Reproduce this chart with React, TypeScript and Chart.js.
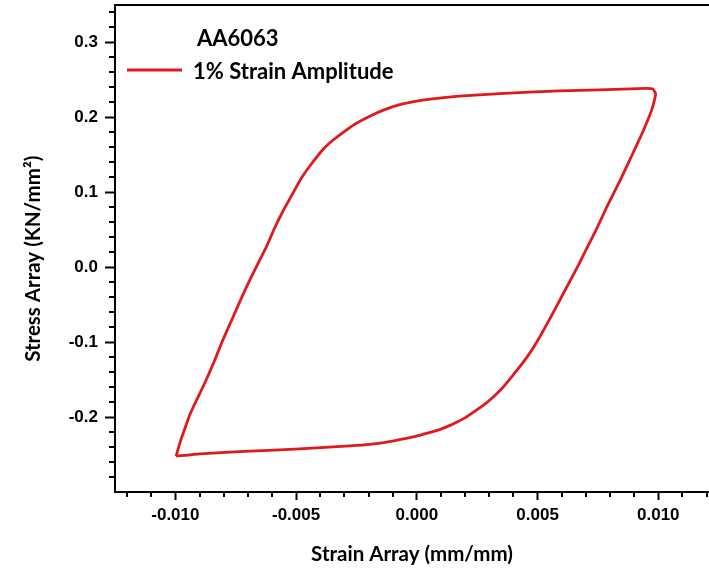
import React, { useEffect, useRef } from 'react';
import { Chart, registerables } from 'chart.js';

Chart.register(...registerables);

// Hysteresis loop, AA6063, 1% strain amplitude (traced in loop order)
const strain: number[] = [
  -0.00997, -0.00979, -0.00960, -0.00939, -0.00912, -0.00878, -0.00840, -0.00803, -0.00760, -0.00726,
  -0.00691, -0.00622, -0.00588, -0.00555, -0.00512, -0.00476, -0.00443, -0.00388, -0.00348, -0.00306,
  -0.00257, -0.00195, -0.00133, -0.00071, 0.00011, 0.00094, 0.00176, 0.00342, 0.00590, 0.00755,
  0.00948, 0.00978, 0.00989, 0.00974, 0.00935, 0.00883, 0.00844, 0.00788, 0.00743, 0.00701,
  0.00666, 0.00610, 0.00550, 0.00495, 0.00457, 0.00406, 0.00358, 0.00321, 0.00287, 0.00238,
  0.00190, 0.00135, 0.00094, 0.00044, -0.00002, -0.00071, -0.00113, -0.00196, -0.00278, -0.00485,
  -0.00691, -0.00898, -0.00997,
];
const stress: number[] = [
  -0.2522, -0.2321, -0.2147, -0.1960, -0.1772, -0.1545, -0.1264, -0.0969, -0.0657, -0.0407,
  -0.0166, 0.0280, 0.0530, 0.0744, 0.0995, 0.1200, 0.1351, 0.1574, 0.1695, 0.1798,
  0.1909, 0.2016, 0.2103, 0.2170, 0.2224, 0.2257, 0.2284, 0.2317, 0.2355, 0.2368,
  0.2387, 0.2377, 0.2310, 0.2110, 0.1802, 0.1440, 0.1173, 0.0811, 0.0503, 0.0236,
  0.0008, -0.0331, -0.0693, -0.1009, -0.1197, -0.1411, -0.1598, -0.1719, -0.1813, -0.1926,
  -0.2027, -0.2114, -0.2167, -0.2214, -0.2254, -0.2301, -0.2328, -0.2365, -0.2385, -0.2425,
  -0.2455, -0.2490, -0.2522,
];

const xMinorTicks: number[] = [-0.012, -0.011, -0.009, -0.008, -0.007, -0.006, -0.004, -0.003, -0.002, -0.001,
  0.001, 0.002, 0.003, 0.004, 0.006, 0.007, 0.008, 0.009, 0.011, 0.012];
const yMinorTicks: number[] = [-0.28, -0.26, -0.24, -0.22, -0.18, -0.16, -0.14, -0.12, -0.08, -0.06, -0.04, -0.02,
  0.02, 0.04, 0.06, 0.08, 0.12, 0.14, 0.16, 0.18, 0.22, 0.24, 0.26, 0.28, 0.32, 0.34];

const legendTitle = 'AA6063';
const seriesLabel = '1% Strain Amplitude';
const xTitle = 'Strain Array (mm/mm)';
const yTitle = 'Stress Array (KN/mm²)\u2002\u2002';

const RED = '#e0191e';

const framePlugin = {
  id: 'frameMinor',
  afterDraw(chart: any) {
    const { ctx, chartArea, scales } = chart;
    const { left, right, top, bottom } = chartArea;
    const x = scales.x;
    const y = scales.y;
    ctx.save();
    ctx.strokeStyle = '#000';
    ctx.lineWidth = 2;
    ctx.beginPath();
    ctx.moveTo(left - 1, Math.round(top));
    ctx.lineTo(right, Math.round(top));
    ctx.stroke();
    ctx.lineWidth = 2;
    for (const v of xMinorTicks) {
      const px = Math.round(x.getPixelForValue(v));
      if (px < left || px > right) continue;
      ctx.beginPath();
      ctx.moveTo(px, bottom);
      ctx.lineTo(px, bottom + 5);
      ctx.stroke();
    }
    for (const v of yMinorTicks) {
      const py = Math.round(y.getPixelForValue(v));
      if (py < top || py > bottom) continue;
      ctx.beginPath();
      ctx.moveTo(left, py);
      ctx.lineTo(left - 6, py);
      ctx.stroke();
    }
    // legend
    ctx.fillStyle = '#000';
    ctx.font = 'bold 22px Lato';
    ctx.textBaseline = 'middle';
    ctx.textAlign = 'left';
    ctx.fillText(legendTitle, left + 82, top + 34);
    ctx.strokeStyle = RED;
    ctx.lineWidth = 3;
    ctx.beginPath();
    ctx.moveTo(left + 12, top + 65);
    ctx.lineTo(left + 67, top + 65);
    ctx.stroke();
    ctx.fillText(seriesLabel, left + 78, top + 67);
    ctx.restore();
  },
};

export default function App() {
  const ref = useRef<HTMLCanvasElement | null>(null);
  useEffect(() => {
    if (!ref.current) return;
    const points = strain.map((s, i) => ({ x: s, y: stress[i] }));
    const tickFont = { family: 'Liberation Sans', weight: 'bold' as const, size: 17 };
    const titleFont = { family: 'Lato', weight: 'bold' as const, size: 20.5 };
    const chart = new Chart(ref.current, {
      type: 'scatter',
      data: {
        datasets: [
          {
            label: seriesLabel,
            data: points,
            showLine: true,
            borderColor: RED,
            backgroundColor: RED,
            borderWidth: 2.8,
            pointRadius: 0,
            tension: 0.15,
          },
        ],
      },
      options: {
        responsive: false,
        animation: false,
        layout: { padding: { top: 5, right: 0, left: 0, bottom: 0 } },
        plugins: { legend: { display: false }, tooltip: { enabled: false } },
        scales: {
          x: {
            type: 'linear',
            min: -0.0125,
            max: 0.0121,
            afterFit: (s: any) => { s.height = 77; s.paddingLeft = 0; s.paddingRight = 0; },
            ticks: {
              stepSize: 0.005,
              includeBounds: false,
              color: '#000',
              font: tickFont,
              padding: 5,
              maxRotation: 0,
              callback: (v: any) => Number(v).toFixed(3),
            },
            grid: { display: true, drawOnChartArea: false, drawTicks: true, tickLength: 8, tickWidth: 2, tickColor: '#000' },
            border: { display: true, color: '#000', width: 2 },
            title: { display: true, text: xTitle, color: '#000', font: titleFont, padding: { top: 0, bottom: 2 } },
          },
          y: {
            type: 'linear',
            min: -0.3,
            max: 0.35,
            afterFit: (s: any) => { s.width = 115; s.paddingTop = 0; s.paddingBottom = 0; },
            ticks: {
              stepSize: 0.1,
              includeBounds: false,
              color: '#000',
              font: tickFont,
              padding: 7,
              callback: (v: any) => Number(v).toFixed(1),
            },
            grid: { display: true, drawOnChartArea: false, drawTicks: true, tickLength: 10, tickWidth: 2, tickColor: '#000' },
            border: { display: true, color: '#000', width: 2 },
            title: { display: true, text: yTitle, color: '#000', font: titleFont, padding: { top: 21, bottom: 0 } },
          },
        },
      },
      plugins: [framePlugin],
    });
    return () => chart.destroy();
  }, []);
  return (
    <div style={{ position: 'fixed', left: 0, top: 0, width: 709, height: 569, background: '#fff' }}>
      <canvas ref={ref} width={709} height={569} style={{ display: 'block' }} />
    </div>
  );
}
